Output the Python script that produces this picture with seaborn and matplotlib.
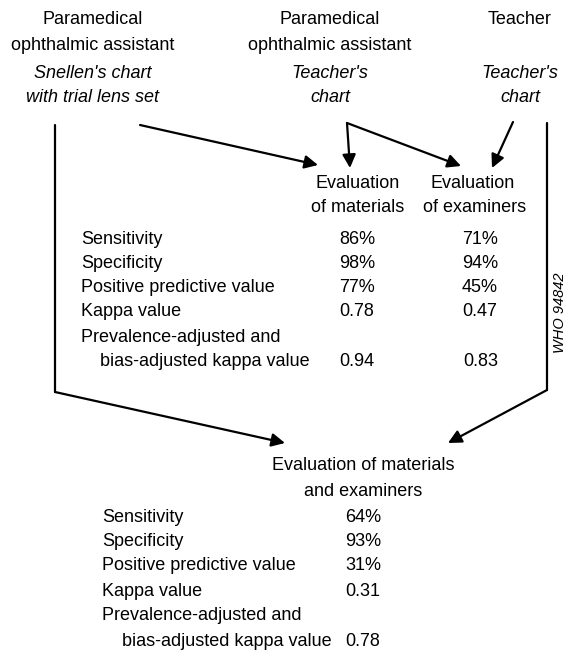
import matplotlib
matplotlib.use("Agg")
import matplotlib.pyplot as plt
import seaborn as sns
import pandas as pd

# --- data ---
sources = [
    ["Paramedical", "ophthalmic assistant"],
    ["Paramedical", "ophthalmic assistant"],
    ["Teacher", ""],
]
source_charts = [
    ["Snellen's chart", "with trial lens set"],
    ["Teacher's", "chart"],
    ["Teacher's", "chart"],
]
measures = ["Sensitivity", "Specificity", "Positive predictive value",
            "Kappa value", "Prevalence-adjusted and"]
measure_last = "bias-adjusted kappa value"
eval_materials = ["86%", "98%", "77%", "0.78", "0.94"]
eval_examiners = ["71%", "94%", "45%", "0.47", "0.83"]
eval_both = ["64%", "93%", "31%", "0.31", "0.78"]
code_label = "WHO 94842"

# --- layout (pixel coordinates of the 574x655 canvas) ---
W, H = 574, 655
src_x = [93, 330, 520]
src_y = [20, 45, 73, 98]
mid_rows = [240, 264, 288, 312, 338, 362]
bot_rows = [518, 542, 566, 591, 616, 641]

sns.set_theme(style="white")
plt.rcParams["font.family"] = ["Liberation Sans Narrow", "Liberation Sans", "DejaVu Sans"]

fig = plt.figure(figsize=(W / 100, H / 100), dpi=100)
ax = fig.add_axes([0, 0, 1, 1])

fs = 13
txt = dict(fontsize=fs, color="black", va="center")

arrow = dict(arrowstyle="-|>", color="black", lw=1.6, mutation_scale=20,
             shrinkA=0, shrinkB=0)

def arr(p0, p1):
    ax.annotate("", xy=p1, xytext=p0, arrowprops=arrow)

# long connectors to bottom box
lines = pd.DataFrame({"x": [55, 55, 547, 547], "y": [125, 392, 123, 390],
                      "g": ["l", "l", "r", "r"]})
for g, d in lines.groupby("g"):
    sns.lineplot(data=d, x="x", y="y", sort=False, estimator=None,
                 color="black", lw=1.6, ax=ax)
ax.set_xlim(0, W)
ax.set_ylim(H, 0)
ax.axis("off")

# source headers
for x, (a, b), (c, d) in zip(src_x, sources, source_charts):
    ax.text(x, src_y[0], a, ha="center", **txt)
    if b:
        ax.text(x, src_y[1], b, ha="center", **txt)
    ax.text(x, src_y[2], c, ha="center", style="italic", **txt)
    ax.text(x, src_y[3], d, ha="center", style="italic", **txt)

# top arrows
arr((140, 125), (318, 165))
arr((347, 123), (350, 168))
arr((347, 123), (461, 166))
arr((513, 122), (492, 168))
arr((55, 392), (285, 443))
arr((547, 390), (448, 443))

# middle table
ax.text(358, 183, "Evaluation", ha="center", **txt)
ax.text(358, 208, "of materials", ha="center", **txt)
ax.text(473, 183, "Evaluation", ha="center", **txt)
ax.text(475, 208, "of examiners", ha="center", **txt)
for y, m, a, b in zip(mid_rows, measures, eval_materials, eval_examiners):
    ax.text(81, y, m, ha="left", **txt)
    if m.startswith("Prevalence"):
        continue
    ax.text(357, y, a, ha="center", **txt)
    ax.text(480, y, b, ha="center", **txt)
ax.text(100, mid_rows[-1], measure_last, ha="left", **txt)
ax.text(357, mid_rows[-1], eval_materials[-1], ha="center", **txt)
ax.text(481, mid_rows[-1], eval_examiners[-1], ha="center", **txt)

ax.text(560, 313, code_label, rotation=90, ha="center", style="italic",
        fontsize=10.5, color="black", va="center")

# bottom table
ax.text(363, 466, "Evaluation of materials", ha="center", **txt)
ax.text(363, 491, "and examiners", ha="center", **txt)
for y, m, v in zip(bot_rows, measures, eval_both):
    ax.text(102, y, m, ha="left", **txt)
    if m.startswith("Prevalence"):
        continue
    ax.text(363, y, v, ha="center", **txt)
ax.text(122, bot_rows[-1], measure_last, ha="left", **txt)
ax.text(363, bot_rows[-1], eval_both[-1], ha="center", **txt)

fig.savefig("out.png", dpi=100)
